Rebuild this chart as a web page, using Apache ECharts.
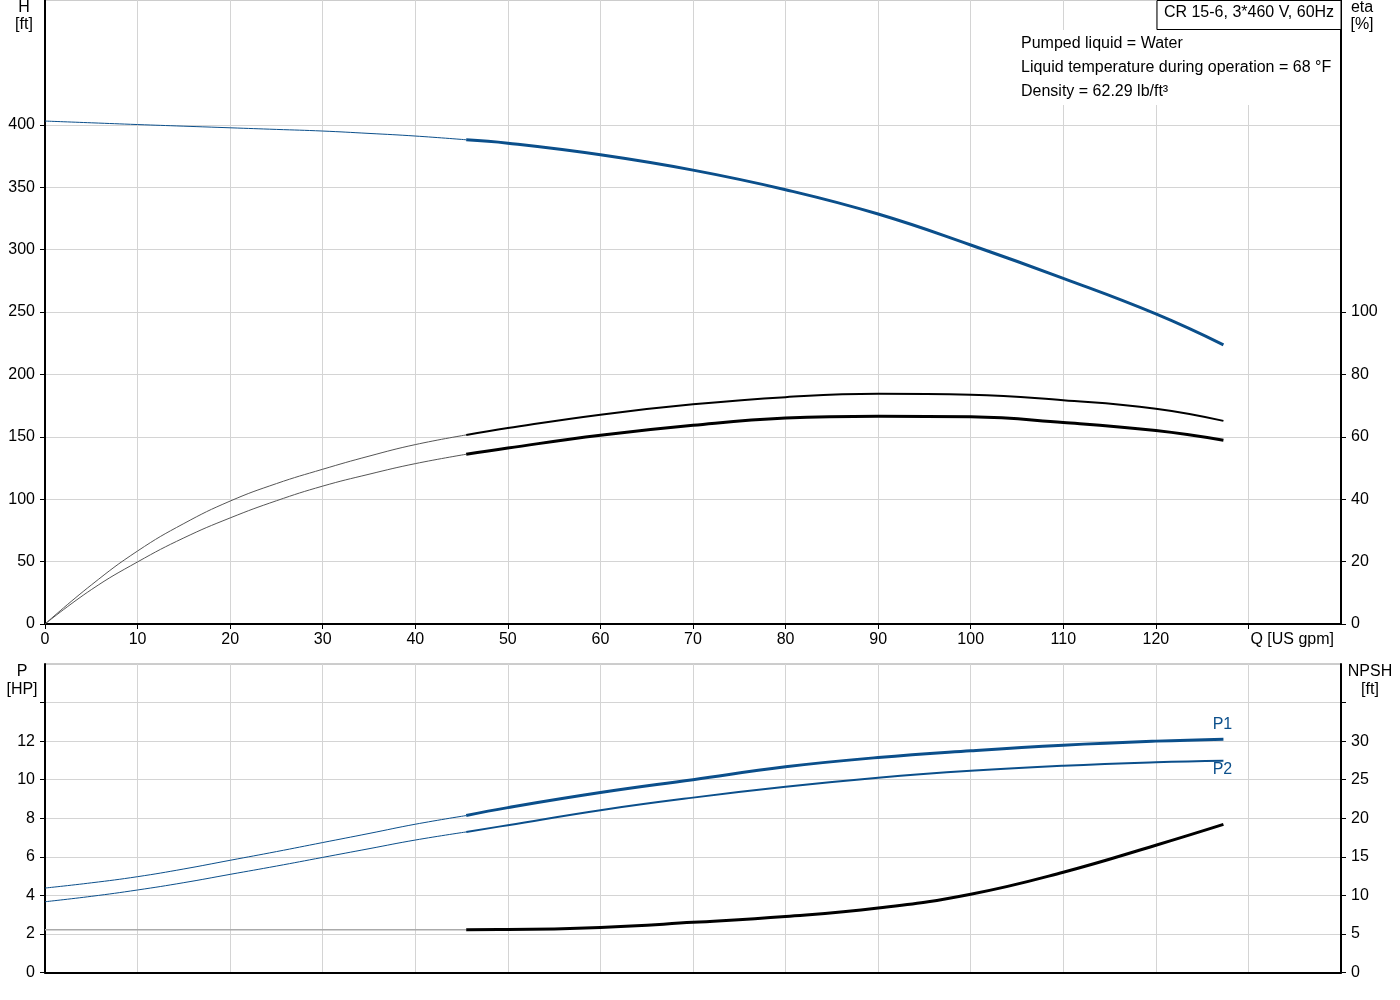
<!DOCTYPE html>
<html>
<head>
<meta charset="utf-8">
<script src="https://cdn.jsdelivr.net/npm/echarts@6/dist/echarts.min.js"></script>
<style>
html,body{margin:0;padding:0;background:#fff;}
#c{width:1400px;height:1000px;}
</style>
</head>
<body>
<div id="c"></div>
<script>
// ---- data ----
const Q      = [0, 5, 10, 15, 20, 25, 30, 35, 40, 45.5, 50, 60, 70, 80, 90, 100, 110, 120, 127.3];
const H      = [403, 401.6, 400.2, 398.9, 397.6, 396.3, 395, 393.1, 391, 388, 385.3, 376, 363.7, 348, 328.5, 303.7, 277, 248.5, 223.7];
const ETA1   = [0, 12.5, 23.4, 32.2, 39.4, 45.0, 49.6, 53.8, 57.5, 60.6, 62.8, 67.1, 70.4, 72.7, 73.8, 73.5, 71.7, 69.0, 65.1];
const ETA2   = [0, 11, 19.9, 27.6, 34.0, 39.5, 44.2, 48.0, 51.4, 54.4, 56.4, 60.5, 63.7, 66.0, 66.6, 66.4, 64.6, 62.0, 58.9];
const P1     = [4.38, 4.65, 4.97, 5.37, 5.82, 6.27, 6.74, 7.21, 7.69, 8.14, 8.55, 9.33, 10.0, 10.67, 11.15, 11.5, 11.79, 12.0, 12.1];
const P2     = [3.67, 3.95, 4.28, 4.66, 5.09, 5.52, 5.97, 6.42, 6.87, 7.29, 7.64, 8.42, 9.07, 9.63, 10.1, 10.46, 10.72, 10.9, 10.98];
const NPSH   = [5.55, 5.55, 5.55, 5.55, 5.55, 5.55, 5.55, 5.55, 5.55, 5.55, 5.57, 5.85, 6.5, 7.25, 8.35, 10.15, 13.0, 16.5, 19.2];
const Q_SPLIT = 45.5; // thin (outside operating range) / thick boundary

const X_LABELS   = [0, 10, 20, 30, 40, 50, 60, 70, 80, 90, 100, 110, 120];
const X_TICKS    = [0, 10, 20, 30, 40, 50, 60, 70, 80, 90, 100, 110, 120, 130];
const H_LABELS   = [0, 50, 100, 150, 200, 250, 300, 350, 400];
const ETA_LABELS = [0, 20, 40, 60, 80, 100];
const P_LABELS   = [0, 2, 4, 6, 8, 10, 12];
const P_TICKS    = [0, 2, 4, 6, 8, 10, 12, 14];
const N_LABELS   = [0, 5, 10, 15, 20, 25, 30];
const N_TICKS    = [0, 5, 10, 15, 20, 25, 30, 35];

const TITLE = 'CR 15-6, 3*460 V, 60Hz';
const INFO = ['Pumped liquid = Water', 'Liquid temperature during operation = 68 °F', 'Density = 62.29 lb/ft³'];

// ---- helpers ----
const pairs = v => Q.map((q, i) => [q, v[i]]);
const thin  = v => pairs(v).filter(p => p[0] <= Q_SPLIT);
const thick = v => pairs(v).filter(p => p[0] >= Q_SPLIT);

const FONT = 'Liberation Sans, Arial, sans-serif';
const BLUE = '#0b4f8b';
const GRIDC = '#d4d4d4';

const chart = echarts.init(document.getElementById('c'), null, {renderer: 'canvas'});

function line(name, data, xi, yi, color, width, z) {
  return {
    name, type: 'line', data, xAxisIndex: xi, yAxisIndex: yi,
    smooth: 0.45, showSymbol: false, symbol: 'none', silent: true,
    lineStyle: {color, width}, z: z || 3
  };
}

const axisTxt = {color: '#000', fontFamily: FONT, fontSize: 16};

const option = {
  animation: false,
  backgroundColor: '#fff',
  grid: [
    {left: 45, right: 59, top: 0, height: 624, show: true, borderColor: '#9a9a9a', borderWidth: 1, containLabel: false},
    {left: 45, right: 59, top: 664, height: 308.5, show: true, borderColor: '#9a9a9a', borderWidth: 1, containLabel: false}
  ],
  xAxis: [
    {type: 'value', gridIndex: 0, min: 0, max: 140, interval: 10,
     axisLine: {show: true, onZero: false, lineStyle: {color: '#000', width: 2}},
     axisTick: {show: true, length: 5, lineStyle: {color: '#000', width: 1}, customValues: X_TICKS},
     axisLabel: Object.assign({margin: 8, customValues: X_LABELS}, axisTxt),
     splitLine: {show: true, lineStyle: {color: GRIDC, width: 1}}},
    {type: 'value', gridIndex: 1, min: 0, max: 140, interval: 10,
     axisLine: {show: true, onZero: false, lineStyle: {color: '#000', width: 2}},
     axisTick: {show: false},
     axisLabel: {show: false},
     splitLine: {show: true, lineStyle: {color: GRIDC, width: 1}}}
  ],
  yAxis: [
    {type: 'value', gridIndex: 0, position: 'left', min: 0, max: 500, interval: 50,
     axisLine: {show: true, lineStyle: {color: '#000', width: 2}},
     axisTick: {show: true, length: 5, lineStyle: {color: '#000'}, customValues: H_LABELS},
     axisLabel: Object.assign({margin: 10, customValues: H_LABELS}, axisTxt),
     splitLine: {show: true, lineStyle: {color: GRIDC, width: 1}}},
    {type: 'value', gridIndex: 0, position: 'right', min: 0, max: 200, interval: 20,
     axisLine: {show: true, lineStyle: {color: '#000', width: 2}},
     axisTick: {show: true, length: 5, lineStyle: {color: '#000'}, customValues: ETA_LABELS},
     axisLabel: Object.assign({margin: 10, customValues: ETA_LABELS}, axisTxt),
     splitLine: {show: false}},
    {type: 'value', gridIndex: 1, position: 'left', min: 0, max: 16, interval: 2,
     axisLine: {show: true, lineStyle: {color: '#000', width: 2}},
     axisTick: {show: true, length: 5, lineStyle: {color: '#000'}, customValues: P_TICKS},
     axisLabel: Object.assign({margin: 10, customValues: P_LABELS}, axisTxt),
     splitLine: {show: true, lineStyle: {color: GRIDC, width: 1}}},
    {type: 'value', gridIndex: 1, position: 'right', min: 0, max: 40, interval: 5,
     axisLine: {show: true, lineStyle: {color: '#000', width: 2}},
     axisTick: {show: true, length: 5, lineStyle: {color: '#000'}, customValues: N_TICKS},
     axisLabel: Object.assign({margin: 10, customValues: N_LABELS}, axisTxt),
     splitLine: {show: false}}
  ],
  series: [
    line('H thin', thin(H), 0, 0, BLUE, 1),
    line('H', thick(H), 0, 0, BLUE, 3),
    line('eta1 thin', thin(ETA1), 0, 1, '#555', 1),
    line('eta1', thick(ETA1), 0, 1, '#000', 2),
    line('eta2 thin', thin(ETA2), 0, 1, '#555', 1),
    line('eta2', thick(ETA2), 0, 1, '#000', 3),
    line('P1 thin', thin(P1), 1, 2, BLUE, 1),
    line('P1', thick(P1), 1, 2, BLUE, 3),
    line('P2 thin', thin(P2), 1, 2, BLUE, 1),
    line('P2', thick(P2), 1, 2, BLUE, 2),
    line('NPSH thin', thin(NPSH), 1, 3, '#aaaaaa', 1.5),
    line('NPSH', thick(NPSH), 1, 3, '#000', 3)
  ]
};
chart.setOption(option);

// ---- annotations placed through the axes ----
const px = (xi, yi, v) => chart.convertToPixel({xAxisIndex: xi, yAxisIndex: yi}, v);
const left = px(0, 0, [0, 0])[0];
const right = px(0, 0, [140, 0])[0];
const qLab = px(0, 0, [130, 0]);
const last = Q.length - 1;
const p1End = px(1, 2, [Q[last], P1[last]]);
const p2End = px(1, 2, [Q[last], P2[last]]);
const topB = px(1, 2, [0, 16])[1];

const txt = (text, x, y, opts) => ({
  type: 'text', z: 120, x, y,
  style: Object.assign({text, fill: '#000', font: '16px ' + FONT, align: 'center', verticalAlign: 'middle'}, opts || {})
});

chart.setOption({
  graphic: [
    txt('H', left - 21, 8),
    txt('[ft]', left - 21, 25),
    txt('eta', right + 21, 8),
    txt('[%]', right + 21, 25),
    txt('P', left - 23, topB + 8),
    txt('[HP]', left - 23, topB + 26),
    txt('NPSH', right + 29, topB + 8),
    txt('[ft]', right + 29, topB + 26),
    txt('Q [US gpm]', qLab[0] + 2, qLab[1] + 16, {align: 'left'}),
    {type: 'rect', z: 110, shape: {x: left + 970, y: 30, width: right - left - 971, height: 75}, style: {fill: '#fff'}},
    {type: 'rect', z: 115, shape: {x: right - 184, y: 0.5, width: 184, height: 29}, style: {fill: '#fff', stroke: '#000', lineWidth: 1}},
    txt(TITLE, right - 92, 13),
    txt(INFO[0], left + 976, 44, {align: 'left'}),
    txt(INFO[1], left + 976, 68, {align: 'left'}),
    txt(INFO[2], left + 976, 92, {align: 'left'}),
    txt('P1', p1End[0] - 1, p1End[1] - 15, {fill: BLUE}),
    txt('P2', p2End[0] - 1, p2End[1] + 9, {fill: BLUE})
  ]
});
</script>
</body>
</html>
